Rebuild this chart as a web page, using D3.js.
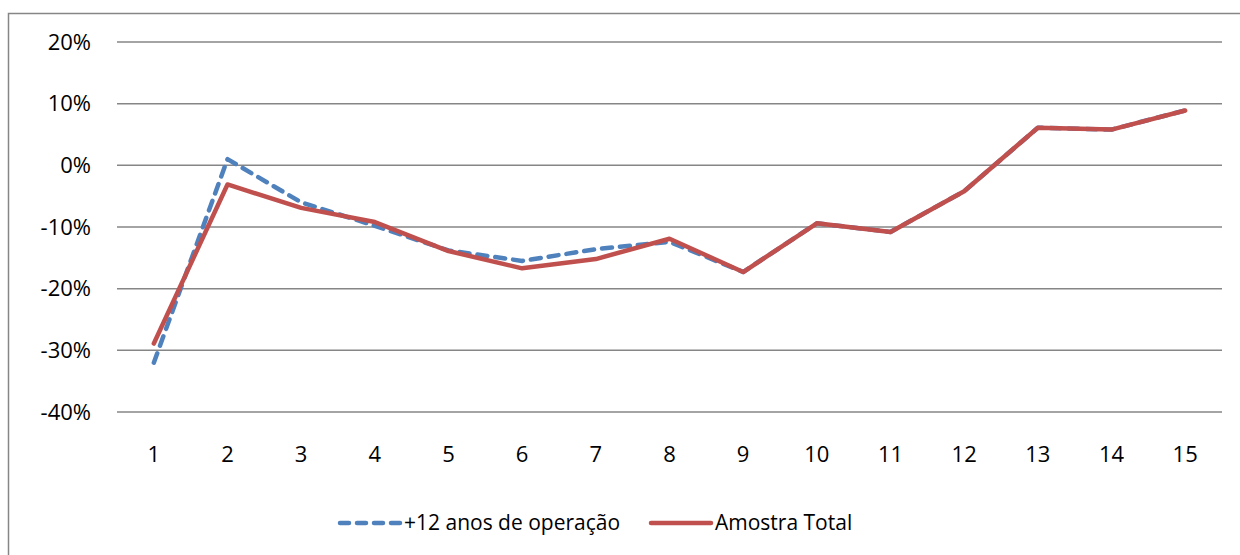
<!DOCTYPE html>
<html><head><meta charset="utf-8">
<script src="https://cdn.jsdelivr.net/npm/d3@7"></script>
<style>body{margin:0;background:#fff}svg{display:block}text{font-family:"Open Sans","Noto Sans",sans-serif;fill:#000}</style>
</head><body>
<svg id="c" width="1240" height="555"></svg>
<script>
const categories = ["1","2","3","4","5","6","7","8","9","10","11","12","13","14","15"];
const seriesNames = ["+12 anos de operação","Amostra Total"];
const blueValues = [-0.32,0.010,-0.060,-0.098,-0.138,-0.155,-0.136,-0.124,-0.173,-0.094,-0.108,-0.042,0.061,0.058,0.089];
const redValues  = [-0.289,-0.031,-0.069,-0.092,-0.139,-0.167,-0.152,-0.119,-0.173,-0.094,-0.108,-0.042,0.061,0.058,0.089];
const yTicks = [-0.4,-0.3,-0.2,-0.1,0,0.1,0.2];
const colors = ["#4F81BD","#C0504D"];

const svg = d3.select("#c");
svg.append("rect").attr("x",8.5).attr("y",13.5).attr("width",1300).attr("height",600)
  .attr("fill","none").attr("stroke","#868686").attr("stroke-width",1.5);

const x = d3.scaleBand().domain(categories).range([117,1222]);
const y = d3.scaleLinear().domain([-0.4,0.2]).range([412,42]);

svg.append("g").selectAll("line").data(yTicks).join("line")
  .attr("x1",117).attr("x2",1222).attr("y1",d=>y(d)).attr("y2",d=>y(d))
  .attr("stroke","#868686").attr("stroke-width",1.5);

const fmt = d => Math.round(d*100) + "%";
const yAxis = d3.axisLeft(y).tickValues(yTicks).tickFormat(fmt).tickSize(0).tickPadding(26);
const gy = svg.append("g").attr("transform","translate(117,0)").call(yAxis);
gy.select(".domain").remove();
gy.selectAll("text").style("font-size","22px").attr("font-family",null);

const xAxis = d3.axisBottom(x).tickSize(0).tickPadding(14);
const gx = svg.append("g").attr("transform","translate(0,432)").call(xAxis);
gx.select(".domain").remove();
gx.selectAll("text").style("font-size","22px").attr("font-family",null);

const line = d3.line().x((d,i)=>x(categories[i])+x.bandwidth()/2).y(d=>y(d));
svg.append("path").datum(blueValues).attr("d",line).attr("fill","none")
  .attr("stroke",colors[0]).attr("stroke-width",4.5).attr("stroke-dasharray","10,8")
  .attr("stroke-linecap","round").attr("stroke-linejoin","round");
svg.append("path").datum(redValues).attr("d",line).attr("fill","none")
  .attr("stroke",colors[1]).attr("stroke-width",4.5)
  .attr("stroke-linecap","round").attr("stroke-linejoin","round");

const legendX = [340,651];
const lg = svg.append("g");
seriesNames.forEach((n,i)=>{
  const g = lg.append("g").attr("transform",`translate(${legendX[i]},523)`);
  g.append("line").attr("x1",0).attr("x2",60).attr("y1",0).attr("y2",0)
    .attr("stroke",colors[i]).attr("stroke-width",4.5).attr("stroke-linecap","round")
    .attr("stroke-dasharray",i===0?"9,8":null);
  g.append("text").attr("x",64).attr("y",0).attr("dy","0.35em").style("font-size","21px").text(n);
});
</script>
</body></html>
